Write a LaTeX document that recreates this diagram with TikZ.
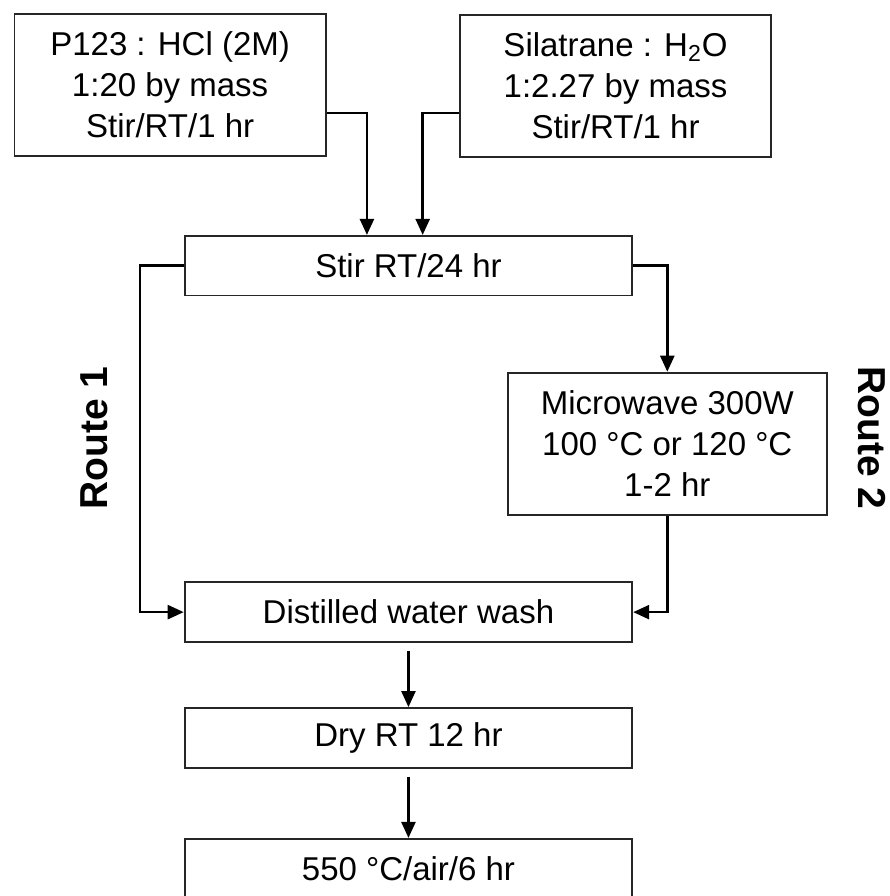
\documentclass[tikz,border=0pt]{standalone}
\usepackage{fontspec}
\setmainfont{Liberation Sans}
\usepackage{tikz}
\usetikzlibrary{arrows.meta, shapes, positioning, calc}

\begin{document}
\begin{tikzpicture}[
  box/.style={rectangle, draw=black!85, line width=0.9pt, inner sep=0pt,
              minimum width=5.47cm, minimum height=2.50cm, align=center,
              font=\fontsize{16.5}{20.5}\selectfont},
  wide/.style={box, minimum width=7.87cm, minimum height=1.05cm},
  arrow/.style={-{Triangle[length=8pt, width=7pt]}, line width=1.2pt},
  route/.style={font=\fontsize{19.5}{23}\selectfont\bfseries},
]
\useasboundingbox (0,0) rectangle (15.64,-15.75);
\node[box]  (p123)  at (2.99, -1.49)  {P123 : HCl (2M)\\1:20 by mass\\Stir/RT/1 hr};
\node[box]  (silat) at (10.82, -1.51) {Silatrane : H\textsubscript{2}O\\1:2.27 by mass\\Stir/RT/1 hr};
\node[wide] (stir)  at (7.18, -4.67)  {Stir RT/24 hr};
\node[box, minimum width=5.61cm] (micro) at (11.73, -7.80) {Microwave 300W\\100 °C or 120 °C\\1-2 hr};
\node[wide] (wash)  at (7.18, -10.76) {Distilled water wash};
\node[wide] (dry)   at (7.18, -12.97) {Dry RT 12 hr};
\node[wide] (calc)  at (7.18, -15.27) {550 °C/air/6 hr};
\node[route, rotate=90]  (route1) at (1.65, -7.70)  {Route 1};
\node[route, rotate=-90] (route2) at (15.33, -7.70) {Route 2};
\coordinate (pjoin) at (6.45, -1.99);
\coordinate (sjoin) at (7.43, -1.99);
\coordinate (bend1) at (2.46, -4.67);
\draw[arrow] (p123.east |- pjoin) -- (pjoin) -- (pjoin |- stir.north);
\draw[arrow] (silat.west |- sjoin) -- (sjoin) -- (sjoin |- stir.north);
\draw[arrow] (stir.west) -- (bend1) |- (wash.west);
\draw[arrow] (stir.east) -| (micro.north);
\draw[arrow] (micro.south) |- (wash.east);
\draw[arrow, shorten <=4pt] (wash) -- (dry);
\draw[arrow, shorten <=4pt] (dry) -- (calc);
\end{tikzpicture}
\end{document}
